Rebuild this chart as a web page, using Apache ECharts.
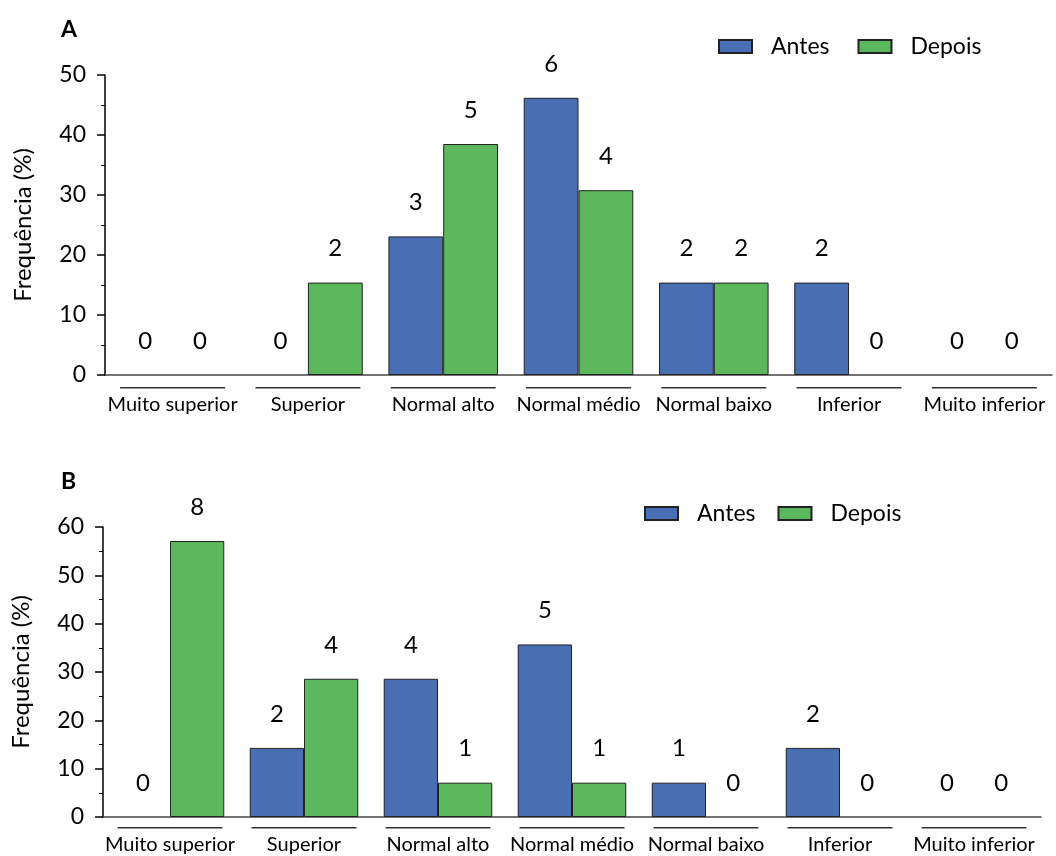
<!DOCTYPE html>
<html>
<head>
<meta charset="utf-8">
<script src="https://cdn.jsdelivr.net/npm/echarts@6/dist/echarts.min.js"></script>
<style>
  html, body { margin: 0; padding: 0; background: #fff; }
  #chart { width: 1056px; height: 856px; }
</style>
</head>
<body>
<div id="chart"></div>
<script>
const categories = ['Muito superior', 'Superior', 'Normal alto', 'Normal médio', 'Normal baixo', 'Inferior', 'Muito inferior'];

// Panel A (percent, with counts shown above bars)
const antesA = [0, 0, 23.1, 46.2, 15.4, 15.4, 0];
const depoisA = [0, 15.4, 38.5, 30.8, 15.4, 0, 0];
const antesCountA = [0, 0, 3, 6, 2, 2, 0];
const depoisCountA = [0, 2, 5, 4, 2, 0, 0];

// Panel B
const antesB = [0, 14.3, 28.6, 35.7, 7.1, 14.3, 0];
const depoisB = [57.1, 28.6, 7.1, 7.1, 0, 0, 0];
const antesCountB = [0, 2, 4, 5, 1, 2, 0];
const depoisCountB = [8, 4, 1, 1, 0, 0, 0];

const yMaxA = 50;
const yMaxB = 60;
const yStep = 10;

const FONT = 'Lato';
const BLUE = '#4a6eb4';
const GREEN = '#5cb85c';

const chart = echarts.init(document.getElementById('chart'));

function xAxisFor(gridIndex, margin) {
    return {
        type: 'category',
        gridIndex: gridIndex,
        data: categories,
        axisLine: { lineStyle: { color: '#444', width: 1.5 } },
        axisTick: { show: false },
        axisLabel: {
            interval: 0,
            margin: margin,
            formatter: v => '{l| }\n{t|' + v + '}',
            rich: {
                l: { width: 105, height: 1.5, lineHeight: 1.5, fontSize: 1, backgroundColor: '#333' },
                t: { fontSize: 20, fontFamily: FONT, color: '#000', lineHeight: 22, padding: [11, 0, 0, 0] }
            }
        }
    };
}

function yAxisFor(gridIndex, max) {
    return {
        type: 'value',
        gridIndex: gridIndex,
        min: 0,
        max: max,
        interval: yStep,
        name: 'Frequência (%)',
        nameLocation: 'middle',
        nameGap: 70,
        nameTextStyle: { fontSize: 24, fontFamily: FONT, color: '#000' },
        axisLine: { show: true, lineStyle: { color: '#000', width: 1.5 } },
        axisTick: { show: true, length: 8, lineStyle: { color: '#000', width: 1.5 } },
        minorTick: { show: true, splitNumber: 2, length: 4, lineStyle: { color: '#000' } },
        splitLine: { show: false },
        axisLabel: { fontSize: 23, fontFamily: FONT, color: '#000', margin: 19 }
    };
}

function barSeries(name, values, counts, idx, color) {
    return {
        name: name,
        type: 'bar',
        xAxisIndex: idx,
        yAxisIndex: idx,
        // zero-height bars get no outline so only the count label shows
        data: values.map(v => v === 0 ? { value: v, itemStyle: { borderWidth: 0 } } : v),
        barGap: '0%',
        barCategoryGap: '19%',
        itemStyle: { color: color, borderColor: '#222', borderWidth: 1 },
        label: {
            show: true,
            position: 'top',
            distance: 22,
            fontSize: 24,
            fontFamily: FONT,
            color: '#000',
            formatter: p => String(counts[p.dataIndex])
        }
    };
}

const legendBase = {
    data: ['Antes', 'Depois'],
    icon: 'rect',
    itemWidth: 33,
    itemHeight: 13,
    textStyle: { fontSize: 23, fontFamily: FONT, color: '#000', padding: [0, 0, 0, 14] }
};

chart.setOption({
    animation: false,
    title: [
        { text: 'A', left: 56, top: 13, textStyle: { fontSize: 23, fontWeight: 'bold', fontFamily: FONT, color: '#000' } },
        { text: 'B', left: 56, top: 465, textStyle: { fontSize: 23, fontWeight: 'bold', fontFamily: FONT, color: '#000' } }
    ],
    legend: [
        Object.assign({}, legendBase, { left: 713, top: 30, itemGap: 28 }),
        Object.assign({}, legendBase, { left: 639, top: 497, itemGap: 22 })
    ],
    grid: [
        { left: 105, right: 4, top: 75, height: 300 },
        { left: 103, right: 15, top: 527, height: 290 }
    ],
    xAxis: [xAxisFor(0, 12), xAxisFor(1, 10)],
    yAxis: [yAxisFor(0, yMaxA), yAxisFor(1, yMaxB)],
    series: [
        barSeries('Antes', antesA, antesCountA, 0, BLUE),
        barSeries('Depois', depoisA, depoisCountA, 0, GREEN),
        barSeries('Antes', antesB, antesCountB, 1, BLUE),
        barSeries('Depois', depoisB, depoisCountB, 1, GREEN)
    ]
});
</script>
</body>
</html>
